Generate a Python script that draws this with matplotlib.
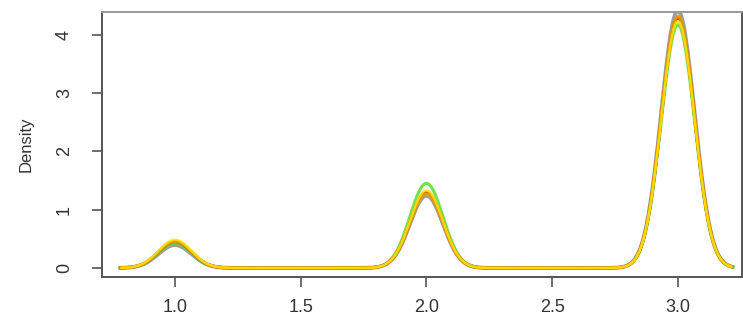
import numpy as np
import matplotlib
matplotlib.use("Agg")
from matplotlib import pyplot as plt
import seaborn as sns

plt.rcParams['font.family'] = ['Liberation Sans', 'DejaVu Sans']

# observed values and how often each one occurs, per series
values = [1.0, 2.0, 3.0]
counts_gray = [6.5, 20.5, 73.0]
counts_green = [7.0, 24.0, 69.0]
counts_red = [7.5, 21.5, 71.0]
counts_orange = [7.5, 21.0, 71.5]
counts_yellow = [8.0, 22.0, 70.0]

series = [
    (counts_gray, '#8c8c8c', 2.8),
    (counts_green, '#55dd33', 2.2),
    (counts_red, '#cc2200', 2.2),
    (counts_orange, '#e8a000', 2.2),
    (counts_yellow, '#ffe600', 1.8),
]

bandwidth = 0.066

fig = plt.figure(figsize=(7.43, 3.29), dpi=100)
ax = fig.add_axes([0.1373, 0.158, 0.8614, 0.8046])

x = np.array(values)
for counts, color, lw in series:
    w = np.array(counts, dtype=float)
    w = w / w.sum()
    mean = np.sum(w * x)
    # scipy's weighted covariance uses the unbiased correction
    var = np.sum(w * (x - mean) ** 2) / (1 - np.sum(w ** 2))
    std = np.sqrt(var)
    sns.kdeplot(x=x, weights=w, bw_method=bandwidth / std, cut=3,
                gridsize=600, color=color, lw=lw, alpha=0.85, ax=ax)

ax.set_xlim(0.71, 3.255)
ax.set_ylim(-0.155, 4.385)
ax.set_xticks([1.0, 1.5, 2.0, 2.5, 3.0])
ax.set_xticklabels(['1.0', '1.5', '2.0', '2.5', '3.0'])
ax.set_yticks([0, 1, 2, 3, 4])
ax.set_yticklabels(['0', '1', '2', '3', '4'], rotation=90, va='center')
ax.set_ylabel('Density', fontsize=12, color='#333333', labelpad=16)
ax.set_xlabel('')

ax.tick_params(axis='both', direction='out', length=7, width=1.2,
               colors='#555555', labelsize=13, labelcolor='#333333')
ax.tick_params(axis='x', pad=9)
ax.tick_params(axis='y', pad=14)
for side in ['left', 'bottom', 'right']:
    ax.spines[side].set_color('#555555')
    ax.spines[side].set_linewidth(1.4)
ax.spines['top'].set_color('#999999')
ax.spines['top'].set_linewidth(1.4)

fig.savefig('out.png', dpi=100)
